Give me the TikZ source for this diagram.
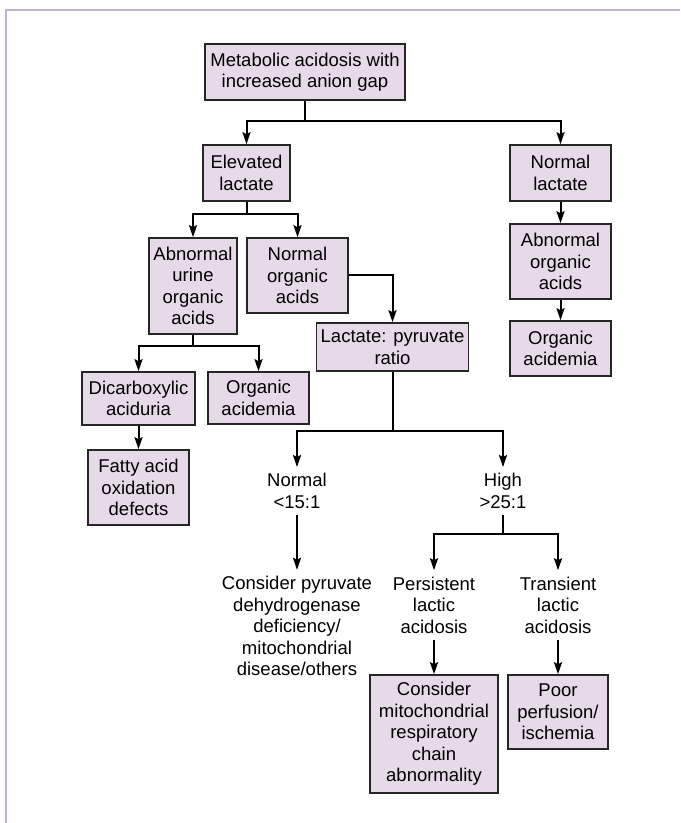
\documentclass[tikz,border=0pt]{standalone}
\usepackage{fontspec}
\setmainfont{Liberation Sans}
\usetikzlibrary{positioning,arrows.meta}
\definecolor{boxfill}{HTML}{E6D9E8}
\definecolor{framecol}{HTML}{C5B0D6}

\tikzset{
  box/.style={draw=black!85, line width=0.8pt, fill=boxfill, align=center, inner sep=2pt,
    font=\fontsize{9.25}{10.75}\selectfont},
  txt/.style={align=center, inner sep=3pt, font=\fontsize{9.25}{10.75}\selectfont},
  link/.style={->, line width=1pt}
}

\begin{document}
\begin{tikzpicture}[x=0.5pt,y=-0.5pt,>={Stealth[length=6pt,width=4pt,inset=1pt]}]
    \useasboundingbox (0,0) rectangle (680,823);
    % frame, top and left only
    \draw[framecol, line width=1pt] (680,10) -- (6,10) -- (6,823);

    \node[box, minimum width=100pt, minimum height=28pt] at (305,72) (gap) {Metabolic acidosis with\\increased anion gap};
    \node[box, minimum width=43.5pt, minimum height=28pt] at (246.5,173) (elev) {Elevated\\lactate};
    \node[box, minimum width=50.5pt, minimum height=28pt] at (560.5,173) (normlac) {Normal\\lactate};
    \node[box, minimum width=44pt, minimum height=48pt] at (193,286) (urine) {Abnormal\\urine\\organic\\acids};
    \node[box, minimum width=50.5pt, minimum height=37.5pt] at (297.5,275.5) (normorg) {Normal\\organic\\acids};
    \node[box, minimum width=50.5pt, minimum height=37.5pt] at (560.5,261.5) (abnorg) {Abnormal\\organic\\acids};
    \node[box, minimum width=50.5pt, minimum height=27.5pt] at (560.5,348.5) (acidemR) {Organic\\acidemia};
    \node[box, minimum width=75.5pt, minimum height=24pt] at (392.5,347) (ratio) {Lactate: pyruvate\\ratio};
    \node[box, minimum width=56.5pt, minimum height=26.5pt] at (138.5,398.5) (dicarb) {Dicarboxylic\\aciduria};
    \node[box, minimum width=50.5pt, minimum height=26pt] at (258.5,398) (acidemL) {Organic\\acidemia};
    \node[box, minimum width=50.5pt, minimum height=37.5pt] at (138.5,487.5) (fatty) {Fatty acid\\oxidation\\defects};

    % ratio ranges and what follows
    \node[txt] at (297,491) (lownum) {Normal\\<15:1};
    \node[txt] at (503,491) (highnum) {High\\>25:1};
    \node[txt] at (297,626) (pdh) {Consider pyruvate\\dehydrogenase\\deficiency/\\mitochondrial\\disease/others};
    \node[txt] at (434,605) (persist) {Persistent\\lactic\\acidosis};
    \node[txt] at (558,605) (transient) {Transient\\lactic\\acidosis};
    \node[box, minimum width=64pt, minimum height=59pt] at (434,734) (chain) {Consider\\mitochondrial\\respiratory\\chain\\abnormality};
    \node[box, minimum width=50pt, minimum height=37pt] at (558,712) (ischemia) {Poor\\perfusion/\\ischemia};

    \draw[link] (gap.south) -- ++(0,20) -| (elev.north);
    \draw[link] (gap.south) -- ++(0,20) -| (normlac.north);
    \draw[link] (elev.south) -- ++(0,12) -| (urine.north);
    \draw[link] (elev.south) -- ++(0,12) -| (normorg.north);
    \draw[link] (normorg.east) -| (ratio.north);
    \draw[link] (normlac) -- (abnorg);
    \draw[link] (abnorg) -- (acidemR);
    \draw[link] (urine.south) -- ++(0,11) -| (dicarb.north);
    \draw[link] (urine.south) -- ++(0,11) -| (acidemL.north);
    \draw[link] (dicarb) -- (fatty);
    \draw[link] (ratio.south) -- ++(0,59) -| (lownum.north);
    \draw[link] (ratio.south) -- ++(0,59) -| (highnum.north);
    \draw[link] (lownum) -- (pdh);
    \draw[link] (highnum.south) -- ++(0,19) -| (persist.north);
    \draw[link] (highnum.south) -- ++(0,19) -| (transient.north);
    \draw[link] (persist) -- (chain);
    \draw[link] (transient) -- (ischemia);
\end{tikzpicture}
\end{document}
